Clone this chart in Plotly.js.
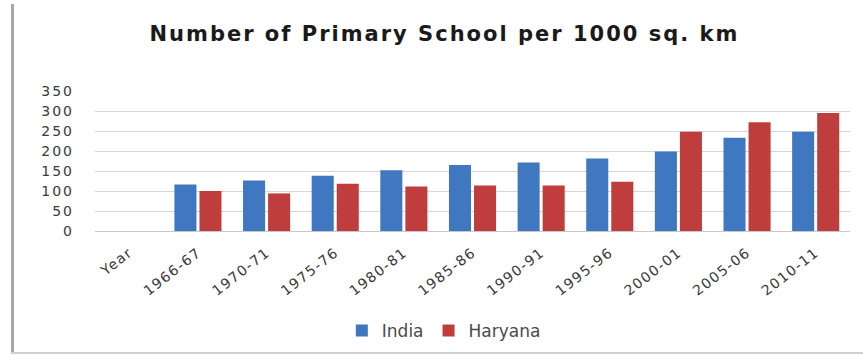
<!DOCTYPE html>
<html>
<head>
<meta charset="utf-8">
<script src="https://cdn.plot.ly/plotly-3.0.1.min.js"></script>
<style>
html,body{margin:0;padding:0;background:#fff;}
#wrap{position:relative;width:863px;height:356px;}
#chart{width:863px;height:356px;}
#lb{position:absolute;left:11px;top:4px;width:3px;height:350px;background:#a6a6a6;}
#bb{position:absolute;left:11px;top:352px;width:852px;height:2px;background:#d0d0d0;}
#chart .gtitle{letter-spacing:2px;}
#chart .ytick text{letter-spacing:2px;}
#chart .xtick text{letter-spacing:1.4px;}
</style>
</head>
<body>
<div id="wrap"><div id="chart"></div><div id="lb"></div><div id="bb"></div></div>
<script>
const categories = ["Year","1966-67","1970-71","1975-76","1980-81","1985-86","1990-91","1995-96","2000-01","2005-06","2010-11"];
const india   = [null,116,126,138,152,165,171,181,199,233,248];
const haryana = [null,100,94,118,111,114,114,123,248,272,295];
const yTicks = [0,50,100,150,200,250,300,350];

const traces = [
  {type:"bar", name:"India", x:categories, y:india, marker:{color:"#3f77c1"}},
  {type:"bar", name:"Haryana", x:categories, y:haryana, marker:{color:"#c03d3d"}}
];
const FONT = "DejaVu Sans, sans-serif";
const layout = {
  width:863, height:356,
  margin:{l:95, r:13, t:91, b:125, autoexpand:false},
  paper_bgcolor:"#fff", plot_bgcolor:"#fff",
  title:{text:"<b>Number of Primary School per 1000 sq. km</b>", x:0.515, xanchor:"center", y:0.905, yanchor:"middle",
         font:{family:FONT, size:21, color:"#1a1a1a"}},
  barmode:"group", bargap:0.27, bargroupgap:0.12,
  showlegend:true,
  legend:{orientation:"h", x:0.462, xanchor:"center", y:-0.714, yanchor:"middle",
          font:{family:FONT, size:17, color:"#4a4a4a"}, itemwidth:30, tracegroupgap:0},
  xaxis:{type:"category", tickangle:-38, tickfont:{family:FONT, size:14, color:"#3a3a3a"},
         ticklabelstandoff:7,
         showgrid:false, showline:true, linecolor:"#c8c8c8", ticks:"", automargin:false},
  yaxis:{range:[0,350], tickvals:yTicks, ticktext:yTicks.map(String), showgrid:true, gridcolor:"#d6d6d6",
         zeroline:false, showline:false, ticks:"", ticklen:0, ticklabelstandoff:20,
         tickfont:{family:FONT, size:14, color:"#3a3a3a"}, automargin:false}
};
Plotly.newPlot("chart", traces, layout, {displayModeBar:false, staticPlot:true});
</script>
</body>
</html>
